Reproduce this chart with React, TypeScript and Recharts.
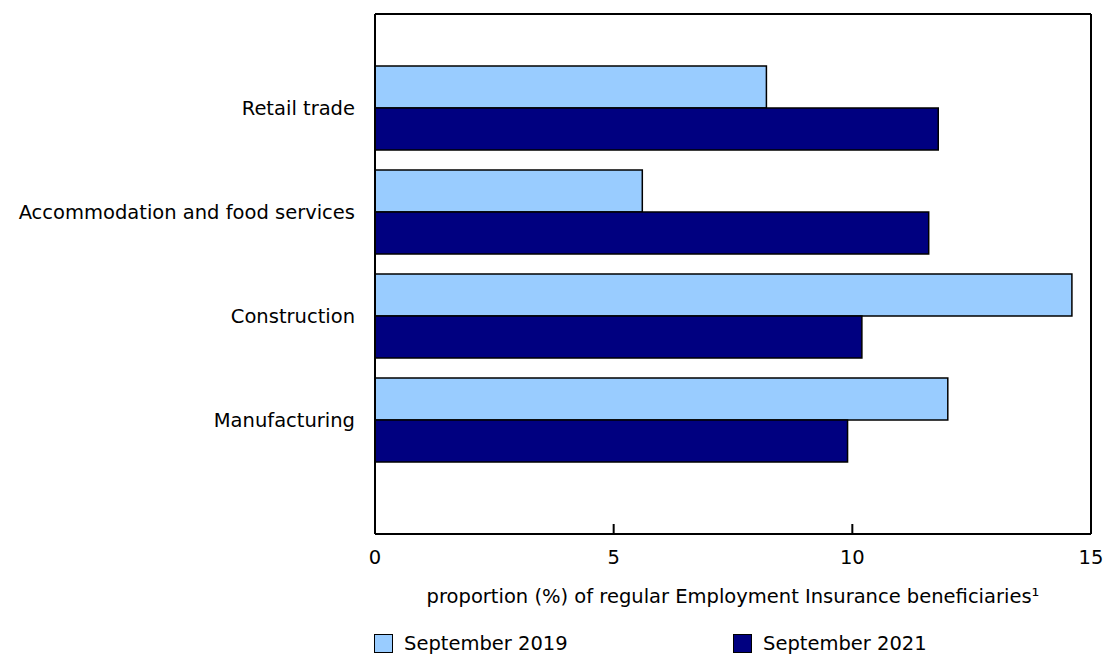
import React from 'react';
import { BarChart, Bar, XAxis, YAxis } from 'recharts';

const industries = ['Retail trade', 'Accommodation and food services', 'Construction', 'Manufacturing'];
const sep2019 = [8.2, 5.6, 14.6, 12.0];
const sep2021 = [11.8, 11.6, 10.2, 9.9];
const xTicks = [0, 5, 10, 15];

const data = industries.map((name, i) => ({ name, sep2019: sep2019[i], sep2021: sep2021[i] }));

const FONT = '"DejaVu Sans", Verdana, sans-serif';
const FS = 19.5;

const XTick = (props: any) => {
  const { x, y, payload } = props;
  return (
    <g>
      <line x1={x} y1={y} x2={x} y2={y - 10} stroke="#000" strokeWidth={2} />
      <text x={x} y={y + 30} textAnchor="middle" fontSize={FS} fontFamily={FONT} fill="#000">
        {payload.value}
      </text>
    </g>
  );
};

const AxisTitle = (props: any) => {
  const vb = props.viewBox;
  return (
    <text x={vb.x + vb.width / 2} y={vb.y + 69} textAnchor="middle" fontSize={FS} fontFamily={FONT} fill="#000">
      proportion (%) of regular Employment Insurance beneficiaries¹
    </text>
  );
};

const LegendItem = ({ color, label, left }: { color: string; label: string; left: number }) => (
  <div style={{ position: 'absolute', left, top: 634, height: 19, display: 'flex', alignItems: 'center' }}>
    <div style={{ width: 19, height: 19, background: color, border: '1.5px solid #000', boxSizing: 'border-box' }} />
    <span style={{ marginLeft: 11, fontSize: FS, fontFamily: FONT, color: '#000', lineHeight: '19px' }}>{label}</span>
  </div>
);

const App = () => {
  return (
    <div style={{ position: 'absolute', left: 0, top: 0, width: 1105, height: 654, background: '#fff', overflow: 'hidden' }}>
      <BarChart
        width={1105}
        height={654}
        data={data}
        layout="vertical"
        margin={{ top: 13, right: 13, left: 0, bottom: 0 }}
        barCategoryGap={10}
        barGap={0}
      >
        <XAxis
          type="number"
          domain={[0, 15]}
          ticks={xTicks}
          height={120}
          axisLine={{ stroke: '#000', strokeWidth: 2 }}
          tickLine={false}
          tickSize={0}
          tickMargin={0}
          tick={<XTick />}
          label={<AxisTitle />}
        />
        <XAxis xAxisId="top" orientation="top" type="number" domain={[0, 15]} height={1} tick={false} tickLine={false} axisLine={{ stroke: '#000', strokeWidth: 2 }} />
        <YAxis
          type="category"
          dataKey="name"
          width={375}
          padding={{ top: 42, bottom: 62 }}
          axisLine={{ stroke: '#000', strokeWidth: 2 }}
          tickLine={false}
          tickSize={0}
          tickMargin={20}
          tick={{ fontSize: FS, fontFamily: FONT, fill: '#000' }}
        />
        <YAxis yAxisId="right" orientation="right" type="category" dataKey="name" width={1} tick={false} tickLine={false} axisLine={{ stroke: '#000', strokeWidth: 2 }} />
        <Bar dataKey="sep2019" fill="#99CCFF" stroke="#000" strokeWidth={1.5} isAnimationActive={false} />
        <Bar dataKey="sep2021" fill="#000080" stroke="#000" strokeWidth={1.5} isAnimationActive={false} />
      </BarChart>
      <LegendItem color="#99CCFF" label="September 2019" left={374} />
      <LegendItem color="#000080" label="September 2021" left={733} />
    </div>
  );
};

export default App;
